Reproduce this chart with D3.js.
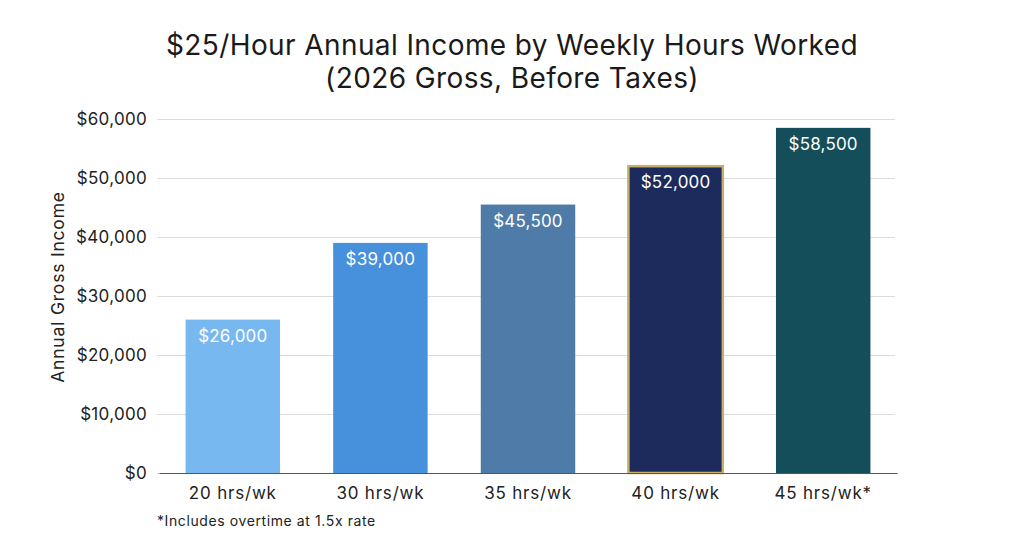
<!DOCTYPE html>
<html>
<head>
<meta charset="utf-8">
<script src="https://cdn.jsdelivr.net/npm/d3@7"></script>
<style>
  body { margin: 0; background: #fff; }
  svg { display: block; font-family: Inter, "Open Sans", sans-serif; }
</style>
</head>
<body>
<div id="chart"></div>
<script>
const categories = ["20 hrs/wk", "30 hrs/wk", "35 hrs/wk", "40 hrs/wk", "45 hrs/wk*"];
const incomes = [26000, 39000, 45500, 52000, 58500];
const barColors = ["#78b8f0", "#4790dc", "#4f7ba8", "#1c2b5b", "#134e5a"];
const yTicks = [0, 10000, 20000, 30000, 40000, 50000, 60000];
const titleLines = ["$25/Hour Annual Income by Weekly Hours Worked", "(2026 Gross, Before Taxes)"];
const footnote = "*Includes overtime at 1.5x rate";
const highlight = "40 hrs/wk";

const width = 1024, height = 541;
const margin = {top: 119, right: 129, bottom: 68, left: 157};
const innerW = width - margin.left - margin.right;
const innerH = height - margin.top - margin.bottom;

const svg = d3.select("#chart").append("svg")
  .attr("width", width)
  .attr("height", height);

svg.append("g")
  .selectAll("text")
  .data(titleLines)
  .join("text")
  .attr("x", width / 2)
  .attr("y", (d, i) => 55 + i * 33)
  .attr("text-anchor", "middle")
  .attr("font-size", 28)
  .attr("letter-spacing", 0.4)
  .attr("fill", "#1a1a1a")
  .text(d => d);

const g = svg.append("g")
  .attr("transform", `translate(${margin.left},${margin.top})`);

const x = d3.scaleBand()
  .domain(categories)
  .range([2, innerW + 2])
  .paddingInner(0.36)
  .paddingOuter(0.18);

const y = d3.scaleLinear()
  .domain([0, 60000])
  .range([innerH, 0]);

const fmt = d3.format("$,");

// grid
g.append("g")
  .call(d3.axisLeft(y).tickValues(yTicks).tickSize(-innerW).tickFormat(""))
  .call(a => a.select(".domain").remove())
  .call(a => a.selectAll(".tick line").attr("stroke", "#dcdcdc").attr("stroke-width", 1));

// y tick labels
g.append("g")
  .call(d3.axisLeft(y).tickValues(yTicks).tickSize(0).tickPadding(10).tickFormat(fmt))
  .call(a => a.select(".domain").remove())
  .call(a => a.selectAll("text")
    .attr("font-size", 17)
    .attr("letter-spacing", 0.3)
    .attr("fill", "#222")
    .attr("font-family", "Inter, 'Open Sans', sans-serif"));

// bars
g.append("g")
  .selectAll("rect")
  .data(categories)
  .join("rect")
  .attr("x", d => x(d))
  .attr("y", (d, i) => y(incomes[i]))
  .attr("width", x.bandwidth())
  .attr("height", (d, i) => innerH - y(incomes[i]))
  .attr("fill", (d, i) => barColors[i])
  .attr("stroke", d => d === highlight ? "#c8b06a" : "none")
  .attr("stroke-width", 2.5);

// value labels
g.append("g")
  .selectAll("text")
  .data(categories)
  .join("text")
  .attr("x", d => x(d) + x.bandwidth() / 2)
  .attr("y", (d, i) => y(incomes[i]) + 22)
  .attr("text-anchor", "middle")
  .attr("font-size", 17)
  .attr("letter-spacing", 0.2)
  .attr("fill", "#fff")
  .text((d, i) => fmt(incomes[i]));

// x axis
g.append("g")
  .attr("transform", `translate(0,${innerH})`)
  .call(d3.axisBottom(x).tickSize(0).tickPadding(14))
  .call(a => a.select(".domain").attr("stroke", "#555").attr("stroke-width", 1.2))
  .call(a => a.selectAll("text")
    .attr("font-size", 17)
    .attr("letter-spacing", 0.8)
    .attr("fill", "#222")
    .attr("font-family", "Inter, 'Open Sans', sans-serif"));

// y axis title
svg.append("text")
  .attr("transform", `translate(64,287) rotate(-90)`)
  .attr("text-anchor", "middle")
  .attr("font-size", 17.5)
  .attr("letter-spacing", 0.8)
  .attr("fill", "#222")
  .text("Annual Gross Income");

// footnote
svg.append("text")
  .attr("x", 157)
  .attr("y", 526)
  .attr("font-size", 14)
  .attr("letter-spacing", 0.6)
  .attr("fill", "#222")
  .text(footnote);
</script>
</body>
</html>
